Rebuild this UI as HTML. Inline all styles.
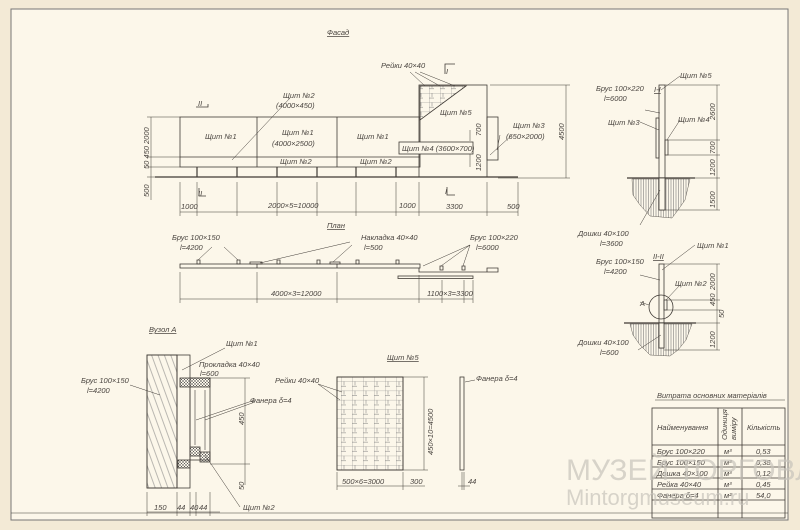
<!DOCTYPE html>
<html><head><meta charset="utf-8"><style>
html,body{margin:0;padding:0;background:#f3ead6;}
svg{display:block}
text{font-family:"Liberation Sans",sans-serif;font-style:italic;fill:#4a4540;font-size:7.5px}
</style></head><body>
<svg width="800" height="530" viewBox="0 0 800 530" xmlns="http://www.w3.org/2000/svg">
<defs>
<pattern id="g5" width="11" height="9.3" patternUnits="userSpaceOnUse"><path d="M0 0H11M0 0V9.3M3 0V4M0 5H5" stroke="#777" stroke-width="0.5" fill="none"/></pattern>
<pattern id="vh" width="2.5" height="10" patternUnits="userSpaceOnUse"><path d="M1 0V10" stroke="#666" stroke-width="0.5"/></pattern>
<pattern id="wood" width="6" height="6" patternUnits="userSpaceOnUse" patternTransform="rotate(70)"><path d="M0 3H6" stroke="#777" stroke-width="0.5"/></pattern>
<pattern id="xh" width="3" height="3" patternUnits="userSpaceOnUse"><path d="M0 0L3 3M3 0L0 3" stroke="#555" stroke-width="0.5"/></pattern>
</defs>
<rect x="11" y="9" width="777" height="511" fill="#fcf7ea" stroke="#777" stroke-width="1"/>
<g stroke="#3f3a35" stroke-width="0.8" fill="none">
<rect x="180" y="117" width="240" height="50"/>
<line x1="257" y1="117" x2="257" y2="167"/><line x1="337" y1="117" x2="337" y2="167"/>
<line x1="180" y1="157" x2="420" y2="157"/>
<line x1="155" y1="177" x2="518" y2="177" stroke-width="1.3"/>
<g stroke-width="1.2"><path d="M197 167V177M237 167V177M277 167V177M317 167V177M356 167V177M396 167V177"/></g>
<rect x="419" y="85" width="68" height="92"/>
<path d="M420 86H466L420 120Z" fill="url(#g5)"/>
<rect x="487" y="117" width="11" height="43"/>
<rect x="399" y="142" width="74" height="12" fill="#fcf7ea"/>
<path d="M180 212H518M180 182V216M197 182V216M237 182V216M277 182V216M317 182V216M356 182V216M396 182V216M419 182V216M487 182V216M518 182V216" stroke-width="0.5"/>
<path d="M151 117V200M147 117H180M147 157H180M147 167H180M147 177H180" stroke-width="0.5"/>
<path d="M566 85V178M490 85H570M498 178H570" stroke-width="0.5"/>
<path d="M470 167V154M470 141V130" stroke-width="0.5"/>
<path d="M200 107H208V104M200 107H196" stroke-width="0.8"/>
<path d="M199 188V196H206" /><path d="M445 74V64H455"/><path d="M447 187V195H455"/>
<path d="M232 160L290 98" stroke-width="0.5"/><path d="M490 155L512 135" stroke-width="0.5"/>
<path d="M425 86L410 72M440 86L415 72M455 86L420 72" stroke-width="0.5"/>
<path d="M500 135L497 150" stroke-width="0.5"/>
<rect x="180" y="264" width="240" height="4"/>
<path d="M257 264V268M337 264V268"/>
<path d="M419 268V272H487V268H498V272H487" />
<rect x="398" y="276" width="75" height="2.5"/>
<path d="M250 262h12v2h-12zM330 262h10v2h-10z"/>
<g stroke-width="0.8"><path d="M197 260h3v4h-3zM237 260h3v4h-3zM277 260h3v4h-3zM317 260h3v4h-3zM356 260h3v4h-3zM396 260h3v4h-3zM440 266h3v4h-3zM462 266h3v4h-3z"/></g>
<path d="M180 299H473M180 272V303M257 272V303M337 272V303M419 275V303M442 280V303M464 280V303M473 280V303" stroke-width="0.5"/>
<path d="M198 260L212 247M238 260L224 247M260 263L350 242M333 262L352 245M423 266L470 245M441 266L470 245M463 266L470 245" stroke-width="0.5"/>
<rect x="659" y="85" width="6" height="125"/>
<rect x="656" y="118" width="3" height="40"/><rect x="665" y="140" width="3" height="15"/>
<line x1="627" y1="178" x2="695" y2="178" stroke-width="1.3"/>
<path d="M632 179L690 179L685 200L678 210L672 218L650 216L640 205L633 195Z" fill="url(#vh)" stroke-width="0.4"/>
<rect x="659" y="178" width="6" height="32" fill="#fcf7ea"/>
<path d="M717 85V210M665 85H720M668 140H720M668 155H720M665 178H720M665 210H720" stroke-width="0.5"/>
<path d="M661 90L680 76M660 113L645 110M659 130L640 122M667 140L680 120M660 190L640 225" stroke-width="0.5"/>
<rect x="659" y="264" width="5" height="84"/>
<rect x="664" y="300" width="3" height="10"/>
<circle cx="661" cy="307" r="12"/>
<line x1="624" y1="323" x2="696" y2="323" stroke-width="1.3"/>
<path d="M630 324L692 324L686 340L678 350L670 356L650 355L640 345L633 335Z" fill="url(#vh)" stroke-width="0.4"/>
<rect x="659" y="323" width="5" height="25" fill="#fcf7ea"/>
<path d="M717 264V350M664 264H720M667 300H720M667 310H720M664 323H720M664 350H720" stroke-width="0.5"/>
<path d="M662 270L695 245M660 280L640 275M666 300L680 285M649 305L640 302M661 335L638 350" stroke-width="0.5"/>
<rect x="147" y="355" width="30" height="133" fill="url(#wood)"/>
<rect x="147" y="355" width="30" height="133"/>
<rect x="177" y="355" width="13" height="133"/>
<rect x="190" y="378" width="20" height="82"/>
<rect x="180" y="378" width="30" height="9" fill="url(#xh)"/>
<rect x="190" y="447" width="10" height="9" fill="url(#xh)"/>
<rect x="200" y="452" width="10" height="10" fill="url(#xh)"/>
<rect x="178" y="460" width="12" height="8" fill="url(#xh)"/>
<path d="M195 390V445M205 390V450" stroke-width="0.6"/>
<path d="M147 512H220M147 492V516M177 492V516M190 492V516M196 492V516M210 492V516" stroke-width="0.5"/>
<path d="M245 378V485M210 378H250M210 464H250" stroke-width="0.5"/>
<path d="M182 370L225 348M130 385L160 395M196 420L255 400M205 420L255 402M205 455L240 507" stroke-width="0.5"/>
<rect x="337" y="377" width="66" height="93" fill="url(#g5)"/>
<rect x="337" y="377" width="66" height="93"/>
<rect x="460" y="377" width="4" height="93"/>
<path d="M337 486H403M403 486H425M337 472V490M403 472V490M424 377V470M403 377H428M403 470H428" stroke-width="0.5"/>
<path d="M458 486H470M462 472V490M464 472V490" stroke-width="0.5"/>
<path d="M318 384L342 392M318 384L340 400M465 382L475 380" stroke-width="0.5"/>
<path d="M655 400H785" stroke-width="0.5"/>
<rect x="652" y="408" width="133" height="110"/>
<path d="M652 445H785M652 456H785M652 467H785M652 478H785M652 489H785M652 500H785M718 408V518M742 408V518"/>
<path d="M11 513H788" stroke-width="0.6"/>
</g>
<g>
<text x="327" y="35" style="text-decoration:underline">Фасад</text>
<text x="381" y="68">Рейки 40×40</text>
<text x="283" y="98">Щит №2</text>
<text x="276" y="108">(4000×450)</text>
<text x="205" y="139">Щит №1</text>
<text x="282" y="135">Щит №1</text>
<text x="272" y="146">(4000×2500)</text>
<text x="357" y="139">Щит №1</text>
<text x="440" y="115">Щит №5</text>
<text x="402" y="151" font-size="7">Щит №4 (3600×700)</text>
<text x="280" y="164">Щит №2</text>
<text x="360" y="164">Щит №2</text>
<text x="513" y="128">Щит №3</text>
<text x="506" y="139">(650×2000)</text>
<text x="198" y="106">II</text><text x="198" y="196">II</text><text x="446" y="74">I</text><text x="445" y="194">I</text>
<text x="181" y="209">1000</text><text x="268" y="208">2000×5=10000</text><text x="399" y="208">1000</text><text x="446" y="209">3300</text><text x="507" y="209">500</text>
<text transform="translate(149,144) rotate(-90)">2000</text>
<text transform="translate(149,169) rotate(-90)" font-size="7">50 450</text>
<text transform="translate(149,197) rotate(-90)">500</text>
<text transform="translate(564,140) rotate(-90)">4500</text>
<text transform="translate(481,136) rotate(-90)">700</text>
<text transform="translate(481,171) rotate(-90)">1200</text>
<text x="327" y="228" style="text-decoration:underline">План</text>
<text x="172" y="240">Брус 100×150</text><text x="180" y="250">l=4200</text>
<text x="361" y="240">Накладка 40×40</text><text x="364" y="250">l=500</text>
<text x="470" y="240">Брус 100×220</text><text x="476" y="250">l=6000</text>
<text x="271" y="296">4000×3=12000</text><text x="427" y="296">1100×3=3300</text>
<text x="654" y="92" style="text-decoration:underline">I-I</text>
<text x="680" y="78">Щит №5</text>
<text x="596" y="91">Брус 100×220</text><text x="604" y="101">l=6000</text>
<text x="608" y="125">Щит №3</text><text x="678" y="122">Щит №4</text>
<text x="578" y="236">Дошки 40×100</text><text x="600" y="246">l=3600</text>
<text transform="translate(715,120) rotate(-90)">2600</text>
<text transform="translate(715,154) rotate(-90)">700</text>
<text transform="translate(715,176) rotate(-90)">1200</text>
<text transform="translate(715,208) rotate(-90)">1500</text>
<text x="653" y="259" style="text-decoration:underline">II-II</text>
<text x="697" y="248">Щит №1</text>
<text x="596" y="264">Брус 100×150</text><text x="604" y="274">l=4200</text>
<text x="675" y="286">Щит №2</text><text x="640" y="306">A</text>
<text x="578" y="345">Дошки 40×100</text><text x="600" y="355">l=600</text>
<text transform="translate(715,290) rotate(-90)">2000</text>
<text transform="translate(715,306) rotate(-90)">450</text>
<text transform="translate(724,318) rotate(-90)">50</text>
<text transform="translate(715,348) rotate(-90)">1200</text>
<text x="149" y="332" style="text-decoration:underline">Вузол A</text>
<text x="226" y="346">Щит №1</text>
<text x="199" y="367">Прокладка 40×40</text><text x="200" y="376">l=600</text>
<text x="81" y="383">Брус 100×150</text><text x="87" y="393">l=4200</text>
<text x="250" y="403">Фанера δ=4</text>
<text transform="translate(244,425) rotate(-90)">450</text>
<text transform="translate(244,490) rotate(-90)">50</text>
<text x="243" y="510">Щит №2</text>
<text x="154" y="510">150</text><text x="177" y="510">44</text><text x="190" y="510">40</text><text x="199" y="510">44</text>
<text x="387" y="360" style="text-decoration:underline">Щит №5</text>
<text x="275" y="383">Рейки 40×40</text>
<text x="476" y="381">Фанера δ=4</text>
<text transform="translate(433,455) rotate(-90)">450×10=4500</text>
<text x="342" y="484">500×6=3000</text><text x="410" y="484">300</text><text x="468" y="484">44</text>
<text x="657" y="398">Витрата основних матеріалів</text>
<text x="657" y="430" font-size="7">Найменування</text>
<text x="747" y="430" font-size="7">Кількість</text>
<text transform="translate(727,440) rotate(-90)" font-size="6.5">Одиниця</text>
<text transform="translate(736,440) rotate(-90)" font-size="6.5">виміру</text>
<text x="657" y="454">Брус 100×220</text><text x="724" y="454">м³</text><text x="756" y="454">0,53</text>
<text x="657" y="465">Брус 100×150</text><text x="724" y="465">м³</text><text x="756" y="465">0,38</text>
<text x="657" y="476">Дошка 40×100</text><text x="724" y="476">м³</text><text x="756" y="476">0,12</text>
<text x="657" y="487">Рейка 40×40</text><text x="724" y="487">м³</text><text x="756" y="487">0,45</text>
<text x="657" y="498">Фанера δ=4</text><text x="724" y="498">м²</text><text x="756" y="498">54,0</text>
<text x="566" y="480" style="font-size:30px;font-style:normal;fill:#c8c4bc;opacity:0.7">МУЗЕЙ ТОРГОВЛІ</text>
<text x="566" y="505" style="font-size:22px;font-style:normal;fill:#c8c4bc;opacity:0.7">Mintorgmuseum.ru</text>
</g>
</svg>
</body></html>
